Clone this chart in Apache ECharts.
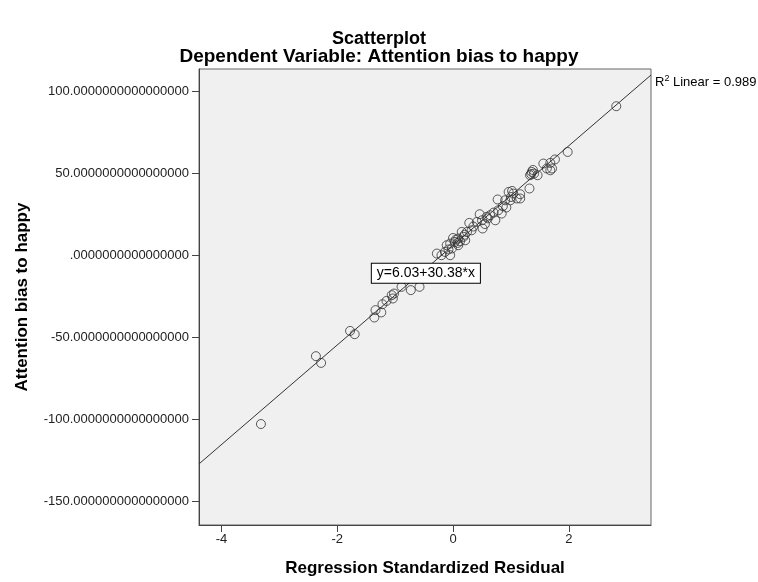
<!DOCTYPE html>
<html>
<head>
<meta charset="utf-8">
<script src="https://cdn.jsdelivr.net/npm/echarts@6/dist/echarts.min.js"></script>
<style>
  html, body { margin: 0; padding: 0; background: #fff; }
  #main { width: 758px; height: 582px; }
</style>
</head>
<body>
<div id="main"></div>
<script>
// standardized residual (x) vs attention bias to happy (y)
var residuals = [
  -3.32, -2.37, -2.28, -1.78, -1.70, -1.36, -1.34, -1.24, -1.22, -1.15,
  -1.06, -1.02, -1.04, -0.89, -0.73, -0.58,
  1.98, 1.76, 1.68, 1.56, 1.62, 1.71, 1.36, 1.38, 1.35, 1.33,
  1.40, 1.46, 1.32, 1.16, 1.02, 0.96, 1.04, 1.10, 0.99, 0.90,
  0.77, 0.86, 0.92, 0.84, 0.73, 0.64, 0.58, 0.46, 0.50, 0.41,
  0.51, 0.28, 0.32, 0.24, 0.15, 0.18, 0.09, 0.21, 0.03, -0.05,
  0.09, -0.11, -0.02, -0.14, -0.28, -0.20, -0.05,
  0.05, 0.12, 0.00, 0.20, 0.35, 0.55, 0.60, 0.70, 1.00, 0.08, -0.08,
  1.68, 1.16, 0.78, 2.82
];
var attentionBias = [
  -103.0, -61.6, -65.7, -46.2, -48.2, -38.0, -33.5, -34.9, -29.9, -27.9,
  -24.4, -23.4, -26.4, -19.3, -21.3, -19.3,
  63.0, 58.4, 56.3, 55.9, 52.9, 52.9, 50.8, 52.0, 49.5, 48.8,
  49.8, 48.8, 40.7, 37.2, 39.2, 38.6, 37.6, 34.6, 33.5, 33.5,
  34.0, 29.9, 29.1, 25.4, 21.3, 24.4, 23.4, 25.0, 21.3, 20.3,
  16.3, 19.7, 15.2, 14.2, 14.2, 11.2, 10.2, 9.1, 8.1, 7.1,
  6.1, 6.1, 4.1, 2.0, 1.0, 0.0, 0.0,
  9.5, 8.5, 10.5, 12.5, 17.5, 19.0, 22.5, 26.0, 35.5, 7.5, 3.5,
  51.8, 34.6, 27.4, 90.9
];
var xTicks = [-4, -2, 0, 2];
var yTicks = [-150, -100, -50, 0, 50, 100];
var xRange = [-4.39, 3.42];
var yRange = [-164.6, 113.6];
var fitIntercept = 6.03;
var fitSlope = 30.38;
var rSquared = 0.989;

var points = residuals.map(function (x, i) { return [x, attentionBias[i]]; });
var fitLine = xRange.map(function (x) { return [x, fitIntercept + fitSlope * x]; });

var font = 'Liberation Sans, Arial, sans-serif';
var chart = echarts.init(document.getElementById('main'));

function yLabel(v) {
  var s = Math.abs(v).toFixed(16);
  if (v === 0) s = s.replace(/^0/, '');
  return (v < 0 ? '-' : '') + s;
}

var option = {
  animation: false,
  backgroundColor: '#fff',
  textStyle: { fontFamily: font },
  title: [
    { text: 'Scatterplot', left: 'center', top: 25,
      textStyle: { fontSize: 18, fontWeight: 'bold', color: '#000', fontFamily: font } },
    { text: 'Dependent Variable: Attention bias to happy', left: 'center', top: 42,
      textStyle: { fontSize: 19, fontWeight: 'bold', color: '#000', fontFamily: font } }
  ],
  grid: {
    left: 199, top: 69, right: 107, bottom: 57,
    show: true, backgroundColor: '#f0f0f0', borderColor: '#666', borderWidth: 1
  },
  xAxis: {
    type: 'value', min: xRange[0], max: xRange[1],
    name: 'Regression Standardized Residual', nameLocation: 'middle', nameGap: 35,
    nameTextStyle: { fontSize: 17, fontWeight: 'bold', color: '#000' },
    axisLine: { show: true, onZero: false, lineStyle: { color: '#444' } },
    axisTick: { show: true, length: 7, customValues: xTicks, lineStyle: { color: '#444' } },
    axisLabel: { customValues: xTicks, color: '#222', fontSize: 13, margin: 8 },
    splitLine: { show: false }
  },
  yAxis: {
    type: 'value', min: yRange[0], max: yRange[1],
    name: 'Attention bias to happy', nameLocation: 'middle', nameGap: 168,
    nameTextStyle: { fontSize: 17, fontWeight: 'bold', color: '#000' },
    axisLine: { show: true, onZero: false, lineStyle: { color: '#444' } },
    axisTick: { show: true, length: 7, customValues: yTicks, lineStyle: { color: '#444' } },
    axisLabel: { customValues: yTicks, color: '#222', fontSize: 13, margin: 10, formatter: yLabel },
    splitLine: { show: false }
  },
  series: [
    {
      type: 'line', data: fitLine, symbol: 'none', silent: true,
      lineStyle: { color: '#333', width: 1 },
      endLabel: {
        show: true, offset: [-4, 7], color: '#000', fontSize: 13,
        formatter: '{a|R}{s|2}{a| Linear = ' + rSquared.toFixed(3) + '}',
        rich: {
          a: { fontSize: 13, color: '#000', fontFamily: font },
          s: { fontSize: 9, color: '#000', fontFamily: font, verticalAlign: 'top', padding: [0, 0, 7, 0] }
        }
      },
      markPoint: {
        symbol: 'rect', symbolSize: 0,
        data: [{ coord: [-0.47, -11] }],
        label: {
          show: true, position: 'inside', color: '#000', fontSize: 14,
          formatter: 'y=' + fitIntercept.toFixed(2) + '+' + fitSlope.toFixed(2) + '*x',
          backgroundColor: '#fff', borderColor: '#000', borderWidth: 1, padding: [3, 5, 2, 5]
        }
      },
      z: 3
    },
    {
      type: 'scatter', data: points, symbol: 'circle', symbolSize: 9,
      itemStyle: { color: 'rgba(0,0,0,0)', borderColor: '#333', borderWidth: 1 },
      z: 2
    }
  ]
};

chart.setOption(option);
</script>
</body>
</html>
